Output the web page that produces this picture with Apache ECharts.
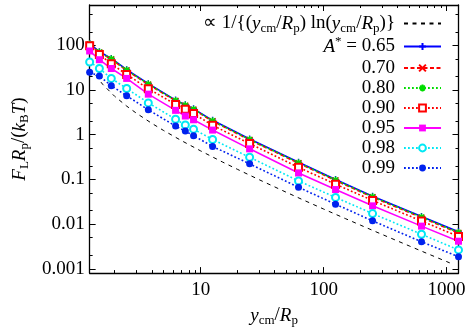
<!DOCTYPE html>
<html><head><meta charset="utf-8">
<script src="https://cdn.jsdelivr.net/npm/echarts@6/dist/echarts.min.js"></script>
<style>html,body{margin:0;padding:0;background:#fff}#c{width:469px;height:332px}</style>
</head><body><div id="c"></div>
<script>
// ---- data ----
const xVals = [1.25, 1.5, 1.875, 2.5, 3.75, 6.25, 7.5, 8.75, 12.5, 25, 62.5, 125, 250, 625, 1250];
const y065 = [110, 72, 51, 28.5, 13.9, 5.95, 4.7, 3.8, 2.1, 0.80, 0.243, 0.099, 0.042, 0.0147, 0.0067];
const y070 = [104, 69, 48.5, 27.2, 13.2, 5.7, 4.45, 3.62, 2.0, 0.76, 0.230, 0.094, 0.0398, 0.0139, 0.0063];
const y080 = [108, 71, 50, 28.0, 13.6, 5.85, 4.6, 3.73, 2.06, 0.78, 0.237, 0.097, 0.041, 0.0144, 0.0065];
const y090 = [98.6, 62.5, 38.6, 22.3, 10.7, 4.75, 3.73, 2.97, 1.62, 0.633, 0.186, 0.078, 0.0338, 0.0117, 0.0053];
const y095 = [74.8, 47.7, 30.3, 18.2, 8.09, 3.51, 2.62, 2.16, 1.27, 0.483, 0.139, 0.0592, 0.0256, 0.0090, 0.00414];
const y098 = [42.5, 30.3, 18.2, 10.8, 5.16, 2.22, 1.66, 1.33, 0.783, 0.313, 0.0923, 0.0396, 0.0172, 0.00593, 0.00264];
const y099 = [24.9, 20.6, 12.5, 7.45, 3.61, 1.56, 1.21, 0.951, 0.547, 0.223, 0.0665, 0.0279, 0.0118, 0.00403, 0.00186];
const refX = [1.4, 1.6, 2, 2.5, 3, 4, 5, 7, 10, 15, 20, 30, 50, 70, 100, 150, 200, 300, 500, 700, 1000, 1100];
const refY = [21.2, 13.3, 7.21, 4.37, 3.03, 1.80, 1.24, 0.734, 0.434, 0.246, 0.167, 0.098, 0.0511, 0.0336, 0.0217, 0.0133, 0.00944, 0.00584, 0.00322, 0.00218, 0.00145, 0.00130];
const xMajor = [10, 100, 1000];
const xMinor = [2, 3, 4, 5, 6, 7, 8, 9, 20, 30, 40, 50, 60, 70, 80, 90, 200, 300, 400, 500, 600, 700, 800, 900];
const yMajor = [0.001, 0.01, 0.1, 1, 10, 100];
const yMinor = [0.002, 0.005, 0.02, 0.05, 0.2, 0.5, 2, 5, 20, 50, 200, 500];
const seriesNames = ['ref', '0.65', '0.70', '0.80', '0.90', '0.95', '0.98', '0.99'];

// ---- styling ----
const F = 'Liberation Serif';
const FS = 19;
const rich = {
  r: {fontFamily: F, fontSize: FS, lineHeight: 20, color: '#000'},
  i: {fontFamily: F, fontSize: FS, fontStyle: 'italic', lineHeight: 20, color: '#000'},
  s: {fontFamily: F, fontSize: 13, lineHeight: 20, padding: [10, 0, 0, 0], color: '#000'},
  u: {fontFamily: F, fontSize: 13, lineHeight: 20, padding: [0, 0, 10, 0], color: '#000'}
};
const legendText = {
  'ref': '{r|\u221D 1/{(}{i|y}{s|cm}{r|/}{i|R}{s|p}{r|) ln(}{i|y}{s|cm}{r|/}{i|R}{s|p}{r|)}}',
  '0.65': '{i|A}{u|*}{r| = 0.65}'
};

const chart = echarts.init(document.getElementById('c'), null, {renderer: 'canvas'});

const gridBox = {left: 75, top: 5, right: 10.5, bottom: 41.3};
const xRange = {min: 1.25, max: 1250};
const yRange = {min: 0.0008, max: 800};

function xAx(pos, major, showLine, showLabel, name) {
  const a = {
    type: 'log', position: pos, min: xRange.min, max: xRange.max,
    axisLine: {show: showLine, onZero: false, lineStyle: {color: '#000', width: 1.3}},
    axisTick: {show: true, inside: true, length: major ? 6 : 3, lineStyle: {color: '#000', width: 1}, customValues: major ? xMajor : xMinor},
    axisLabel: {show: showLabel, customValues: xMajor, margin: 7, fontFamily: F, fontSize: FS, color: '#000', formatter: v => String(v)},
    splitLine: {show: false}, minorTick: {show: false}
  };
  if (name) {
    a.name = name; a.nameLocation = 'middle'; a.nameGap = 28;
    a.nameTextStyle = {rich: rich, fontFamily: F, fontSize: FS};
  }
  return a;
}
function yAx(pos, major, showLine, showLabel, name) {
  const a = {
    type: 'log', position: pos, min: yRange.min, max: yRange.max,
    axisLine: {show: showLine, onZero: false, lineStyle: {color: '#000', width: 1.3}},
    axisTick: {show: true, inside: true, length: major ? 6 : 3, lineStyle: {color: '#000', width: 1}, customValues: major ? yMajor : yMinor},
    axisLabel: {show: showLabel, customValues: yMajor, margin: 5, fontFamily: F, fontSize: FS, color: '#000', formatter: v => String(v)},
    splitLine: {show: false}, minorTick: {show: false}
  };
  if (name) {
    a.name = name; a.nameLocation = 'middle'; a.nameGap = 46; a.nameRotate = 90;
    a.nameTextStyle = {rich: rich, fontFamily: F, fontSize: FS};
  }
  return a;
}

function pts(ys) { return xVals.map((x, i) => [x, ys[i]]); }
const P_PLUS = 'path://M0,5H10M5,0V10';
const P_X = 'path://M0,0L10,10M10,0L0,10';
const P_STAR = 'path://M0,5H10M5,0V10M1.5,1.5L8.5,8.5M8.5,1.5L1.5,8.5';

function ser(name, ys, color, type, width, symbol, size, stroked) {
  return {
    type: 'line', name: name, data: pts(ys), xAxisIndex: 0, yAxisIndex: 0,
    symbol: symbol, symbolSize: size, showAllSymbol: true,
    lineStyle: {color: color, width: width, type: type},
    itemStyle: stroked ? {color: color, borderColor: color, borderWidth: 1.4} : {color: color},
    emphasis: {disabled: true}, animation: false, clip: true
  };
}

const colBlue = '#0000ff', colRed = '#ff0000', colGreen = '#00dd00', colMag = '#ff00ff', colCyan = '#00e8f4', colBlue2 = '#0022ee';

const series = [
  {
    type: 'line', name: 'ref', data: refX.map((x, i) => [x, refY[i]]),
    symbol: 'circle', symbolSize: 0, showSymbol: false,
    lineStyle: {color: '#000', width: 1, type: [4, 4.5]},
    itemStyle: {color: 'rgba(0,0,0,0)'}, emphasis: {disabled: true}, animation: false
  },
  ser('0.65', y065, colBlue, 'solid', 1.6, P_PLUS, 7, true),
  ser('0.70', y070, colRed, [4, 2.5], 1.4, P_X, 6, true),
  ser('0.80', y080, colGreen, [1.8, 2.2], 1.6, P_STAR, 7, true),
  ser('0.90', y090, colRed, [1.8, 2.2], 1.6, 'emptyRect', 7, false),
  ser('0.95', y095, colMag, 'solid', 1.6, 'rect', 7, false),
  ser('0.98', y098, colCyan, [1.8, 2.2], 1.6, 'emptyCircle', 7, false),
  ser('0.99', y099, colBlue2, [1.8, 2.2], 1.6, 'circle', 7, false)
];

chart.setOption({
  animation: false,
  backgroundColor: '#fff',
  grid: gridBox,
  xAxis: [
    xAx('bottom', true, true, true, '{i|y}{s|cm}{r|/}{i|R}{s|p}'),
    xAx('bottom', false, false, false),
    xAx('top', true, true, false),
    xAx('top', false, false, false)
  ],
  yAxis: [
    yAx('left', true, true, true, '{i|F}{s|L}{i|R}{s|p}{r|/(}{i|k}{s|B}{i|T}{r|)}'),
    yAx('left', false, false, false),
    yAx('right', true, true, false),
    yAx('right', false, false, false)
  ],
  legend: {
    data: seriesNames, orient: 'vertical', align: 'right', right: 27, top: 12, padding: 0,
    itemGap: 0, itemWidth: 37, itemHeight: 8.5, selectedMode: false,
    textStyle: {fontFamily: F, fontSize: FS, lineHeight: 20, color: '#000', rich: rich, padding: [0, 4, 0, 0]},
    formatter: n => legendText[n] || ('{r|' + n + '}')
  },
  series: series
});
</script>
</body></html>
